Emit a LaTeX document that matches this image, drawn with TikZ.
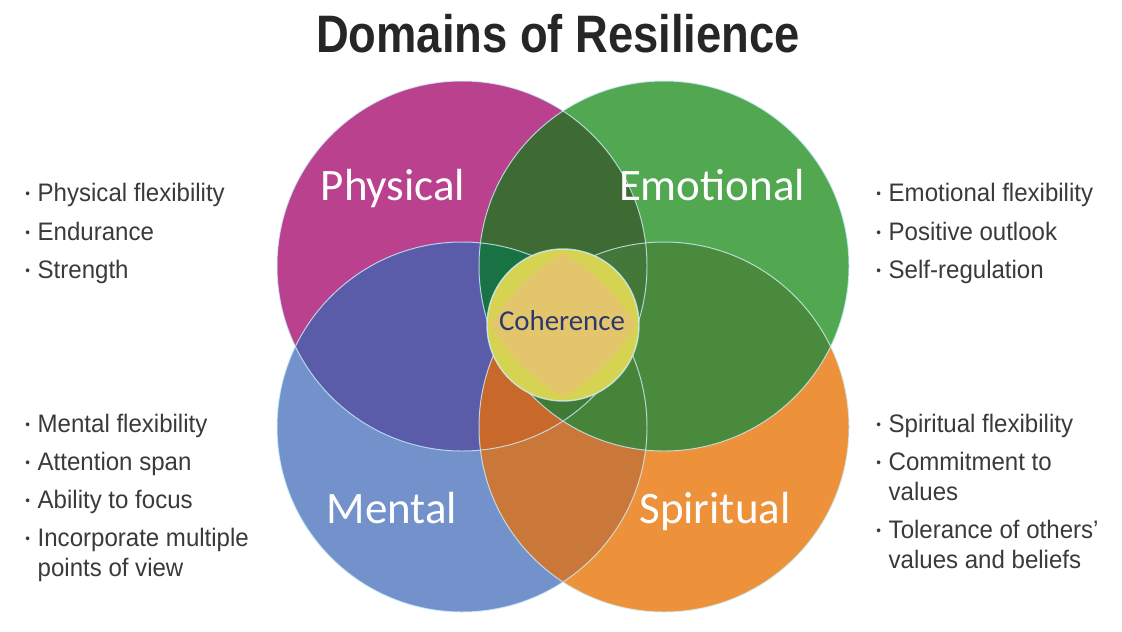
\documentclass[tikz,border=0pt]{standalone}
\usepackage{fontspec}
\setmainfont{Liberation Sans}
\newfontfamily\titrefont[FakeStretch=0.86]{Liberation Sans}
\newfontfamily\listefont[FakeStretch=0.95]{Liberation Sans}
\newfontfamily\cerclefont{Carlito}
\definecolor{physique}{HTML}{B9418E}
\definecolor{emotion}{HTML}{51A851}
\definecolor{mental}{HTML}{7392CB}
\definecolor{spirit}{HTML}{ED923B}
\definecolor{colPE}{HTML}{3D6B33}
\definecolor{colPM}{HTML}{5A5CA9}
\definecolor{colES}{HTML}{4A8A3C}
\definecolor{colMS}{HTML}{CA7839}
\definecolor{colPEM}{HTML}{187243}
\definecolor{colPMS}{HTML}{C8692B}
\definecolor{colPES}{HTML}{44773A}
\definecolor{colEMS}{HTML}{47843A}
\definecolor{colPEMS}{HTML}{417A36}
\definecolor{cohbord}{HTML}{D7D352}
\definecolor{cohcoeur}{HTML}{E3C66B}
\definecolor{cohtexte}{HTML}{2E3870}
\definecolor{gristexte}{HTML}{3A3A3A}
\newcommand{\puce}{\raisebox{1.8pt}{\fontsize{10}{10}\selectfont\textbullet}\hspace{5.5pt}}
\newcommand{\retrait}{\phantom{\puce}}

\begin{document}
\begin{tikzpicture}[x=0.025cm,y=-0.025cm,
  liste/.style={anchor=base west,inner sep=0pt,align=left,text=gristexte,
    font=\listefont\fontsize{18}{21}\selectfont},
  nomcercle/.style={anchor=base,inner sep=0pt,text=white,
    font=\cerclefont\fontsize{32}{36}\selectfont},
  contour/.style={draw=white!80!cyan,line width=0.7pt,draw opacity=0.8}]
\useasboundingbox (0,0) rectangle (1122,631);
\def\r{185}
\coordinate (P) at (462,266);
\coordinate (E) at (664,266);
\coordinate (M) at (462,427);
\coordinate (S) at (664,427);
\coordinate (C) at (563,325);

%les quatre cercles
\fill[physique] (P) circle (\r);
\fill[emotion] (E) circle (\r);
\fill[mental] (M) circle (\r);
\fill[spirit] (S) circle (\r);
%intersections deux a deux
\begin{scope}
  \clip (P) circle (\r);
  \fill[colPE] (E) circle (\r);
  \fill[colPM] (M) circle (\r);
\end{scope}
\begin{scope}
  \clip (S) circle (\r);
  \fill[colES] (E) circle (\r);
  \fill[colMS] (M) circle (\r);
\end{scope}
%intersections trois a trois
\begin{scope}
  \clip (P) circle (\r); \clip (E) circle (\r);
  \fill[colPEM] (M) circle (\r);
  \fill[colPES] (S) circle (\r);
\end{scope}
\begin{scope}
  \clip (M) circle (\r); \clip (S) circle (\r);
  \fill[colPMS] (P) circle (\r);
  \fill[colEMS] (E) circle (\r);
\end{scope}
%partie commune
\begin{scope}
  \clip (P) circle (\r); \clip (E) circle (\r); \clip (M) circle (\r);
  \fill[colPEMS] (S) circle (\r);
\end{scope}
\draw[contour] (P) circle (\r) (E) circle (\r) (M) circle (\r) (S) circle (\r);

%cercle central avec son losange
\fill[cohbord] (C) circle (76);
\begin{scope}
  \clip (C) circle (76);
  \clip ([shift={(-101,-103)}]C) circle (202);
  \clip ([shift={(101,-103)}]C) circle (202);
  \clip ([shift={(-101,103)}]C) circle (202);
  \fill[cohcoeur] ([shift={(101,103)}]C) circle (202);
\end{scope}
\draw[contour,line width=1pt] (C) circle (76);

\node[anchor=base,inner sep=0pt,text=black!85,font=\titrefont\bfseries\fontsize{37.5}{40}\selectfont]
  (titre) at (558,52) {Domains of Resilience};
\node[nomcercle] (nphys) at (393,200) {Physical};
\node[nomcercle] (nemo) at (712,200) {Emotional};
\node[nomcercle] (nment) at (392,523) {Mental};
\node[nomcercle] (nspir) at (715,523) {Spiritual};
\node[anchor=base,inner sep=0pt,text=cohtexte,font=\cerclefont\fontsize{20.5}{24}\selectfont]
  (ncoh) at (562,330) {Coherence};

%listes
\node[liste] (p1) at (25,201) {\puce Physical flexibility};
\node[liste] (p2) at (25,240) {\puce Endurance};
\node[liste] (p3) at (25,278) {\puce Strength};
\node[liste] (e1) at (876,201) {\puce Emotional flexibility};
\node[liste] (e2) at (876,240) {\puce Positive outlook};
\node[liste] (e3) at (876,278) {\puce Self-regulation};
\node[liste] (m1) at (25,432) {\puce Mental flexibility};
\node[liste] (m2) at (25,470) {\puce Attention span};
\node[liste] (m3) at (25,508) {\puce Ability to focus};
\node[liste] (m4) at (25,576) {\puce Incorporate multiple\\\retrait points of view};
\node[liste] (s1) at (876,432) {\puce Spiritual flexibility};
\node[liste] (s2) at (876,500) {\puce Commitment to\\\retrait values};
\node[liste] (s3) at (876,568) {\puce Tolerance of others’\\\retrait values and beliefs};
\end{tikzpicture}
\end{document}
